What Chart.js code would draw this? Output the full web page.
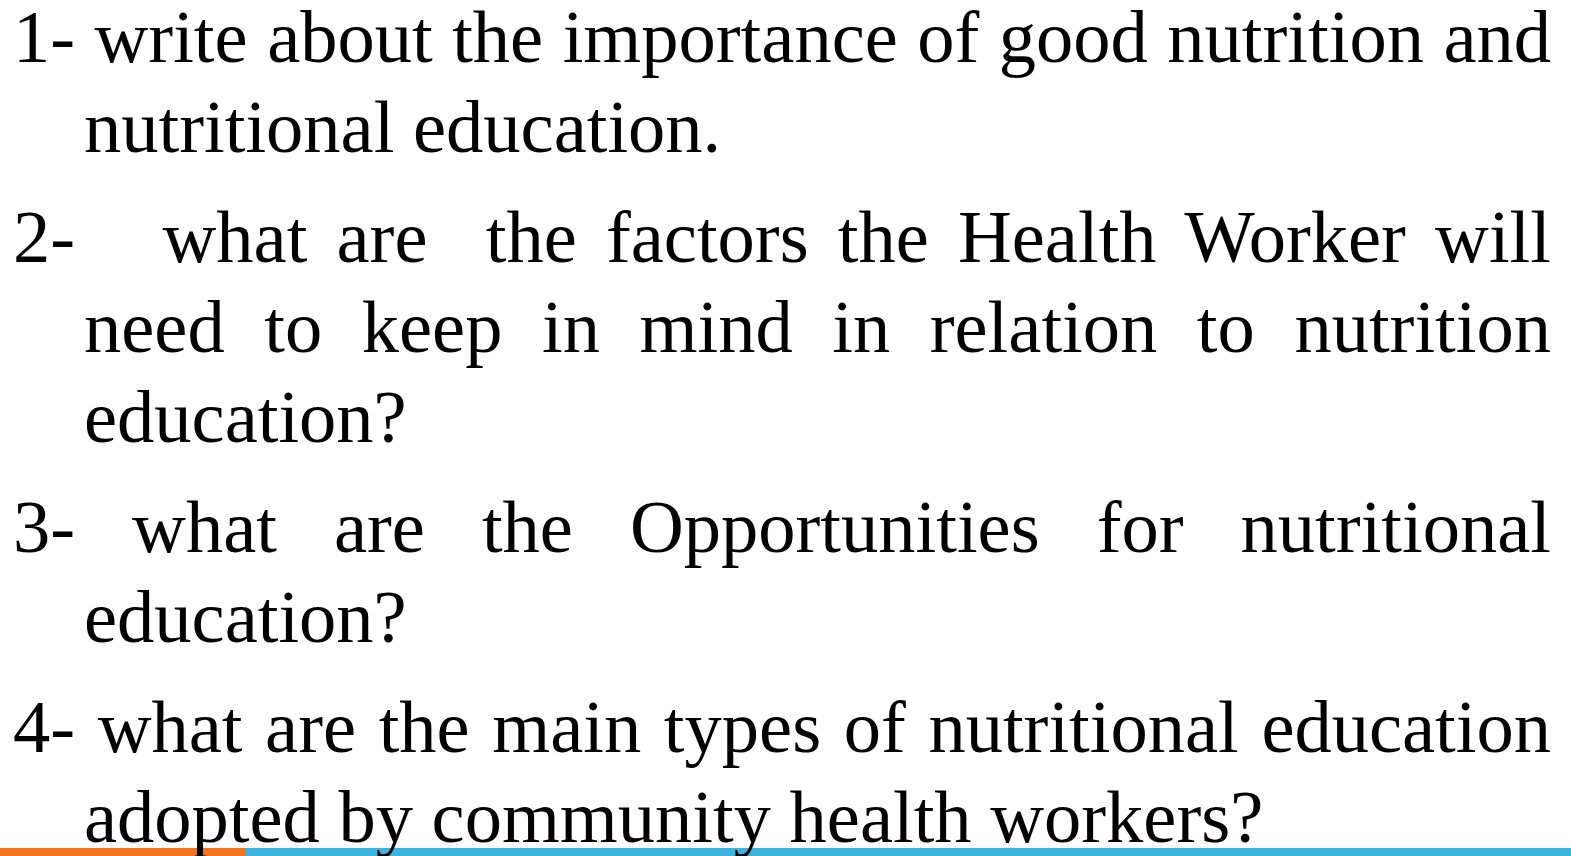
<!DOCTYPE html>
<html>
<head>
<meta charset="utf-8">
<script src="https://cdn.jsdelivr.net/npm/chart.js@4"></script>
<style>
  html, body { margin: 0; padding: 0; background: #fff; }
  body { width: 1571px; height: 856px; position: relative; overflow: hidden; }
  #slide {
    position: absolute; left: 0; top: -8px; width: 1551px;
    font-family: "Liberation Serif", "Times New Roman", serif;
    font-size: 74.5px; line-height: 90px; color: #000;
    z-index: 2;
  }
  .q { margin: 0 0 20px 0; padding-left: 84px; }
  .q span { display: block; white-space: pre-wrap; }
  .q span.first { margin-left: -71px; }
  .q span.just { text-align: justify; text-align-last: justify; }
  #strip { position: absolute; left: 0; top: 848px; width: 1571px; height: 8px; z-index: 1; }
</style>
</head>
<body>
<div id="slide"></div>
<div id="strip"><canvas id="stripChart"></canvas></div>
<script>
  // Textos da lâmina (uma linha por item)
  const questions = [
    ["1- write about the importance of good nutrition and", "nutritional education."],
    ["2-   what are  the factors the Health Worker will", "need to keep in mind in relation to nutrition", "education?"],
    ["3- what are the Opportunities for nutritional", "education?"],
    ["4- what are the main types of nutritional education", "adopted by community health workers?"]
  ];

  // Faixa inferior: segmentos em pixels da largura da lâmina
  const stripLabels = ["faixa"];
  const orangeSegment = [245];
  const blueSegment = [1326];
  const stripColors = { orange: "#F5731F", blue: "#3CB4E0" };

  const slideEl = document.getElementById("slide");
  questions.forEach(lines => {
    const p = document.createElement("div");
    p.className = "q";
    lines.forEach((txt, i) => {
      const s = document.createElement("span");
      s.textContent = txt;
      if (i === 0) s.classList.add("first");
      if (i < lines.length - 1) s.classList.add("just");
      p.appendChild(s);
    });
    slideEl.appendChild(p);
  });

  const chart = new Chart(document.getElementById("stripChart"), {
    type: "bar",
    data: {
      labels: stripLabels,
      datasets: [
        { data: orangeSegment, backgroundColor: stripColors.orange, borderWidth: 0 },
        { data: blueSegment, backgroundColor: stripColors.blue, borderWidth: 0 }
      ]
    },
    options: {
      indexAxis: "y",
      responsive: true,
      maintainAspectRatio: false,
      animation: false,
      layout: { padding: 0 },
      datasets: { bar: { barPercentage: 1, categoryPercentage: 1 } },
      scales: {
        x: { stacked: true, display: false, min: 0, max: 1571 },
        y: { stacked: true, display: false }
      },
      plugins: { legend: { display: false }, tooltip: { enabled: false } }
    }
  });
</script>
</body>
</html>
